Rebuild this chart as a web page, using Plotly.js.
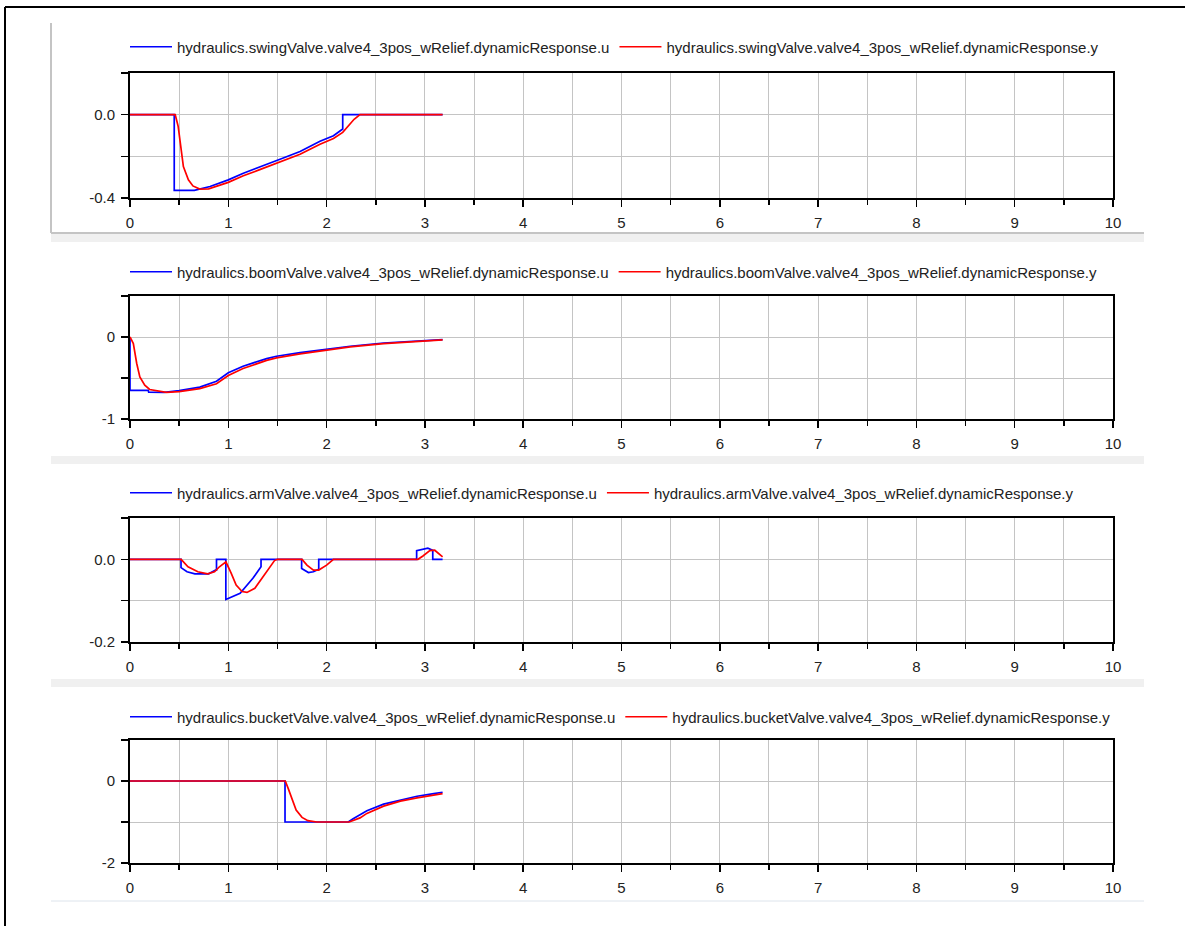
<!DOCTYPE html>
<html><head><meta charset="utf-8">
<script src="https://cdn.plot.ly/plotly-3.0.1.min.js"></script>
<style>html,body{margin:0;padding:0;background:#fff;} #chart{width:1185px;height:926px;}</style>
</head><body><div id="chart"></div>
<script>
// ---- data ----
const valveNames = ['swingValve', 'boomValve', 'armValve', 'bucketValve'];
const signalSuffix = ['u', 'y'];

const swingU_t = [0, 0.45, 0.45, 0.655, 0.814, 1.0, 1.153, 1.32, 1.526, 1.73, 1.933, 2.07, 2.164, 2.164, 3.18];
const swingU_v = [0, 0, -0.363, -0.363, -0.345, -0.313, -0.281, -0.252, -0.214, -0.177, -0.128, -0.101, -0.069, 0, 0];
const swingY_t = [0, 0.46, 0.49, 0.526, 0.543, 0.594, 0.64, 0.71, 0.8, 1.0, 1.153, 1.32, 1.526, 1.73, 1.933, 2.07, 2.164, 2.22, 2.28, 2.34, 3.18];
const swingY_v = [0, 0, -0.056, -0.2, -0.249, -0.313, -0.342, -0.357, -0.356, -0.325, -0.293, -0.264, -0.226, -0.19, -0.142, -0.114, -0.085, -0.055, -0.022, 0, 0];

const boomU_t = [0, 0, 0.186, 0.19, 0.35, 0.5, 0.71, 0.88, 1.0, 1.15, 1.39, 1.49, 1.73, 2.0, 2.24, 2.58, 3.0, 3.18];
const boomU_v = [0, -0.652, -0.652, -0.672, -0.675, -0.655, -0.611, -0.54, -0.437, -0.356, -0.263, -0.235, -0.19, -0.15, -0.113, -0.073, -0.04, -0.032];
const boomY_t = [0, 0.034, 0.068, 0.10, 0.15, 0.2, 0.37, 0.5, 0.71, 0.88, 1.0, 1.15, 1.39, 1.49, 1.73, 2.0, 2.24, 2.58, 3.0, 3.18];
const boomY_v = [0, -0.08, -0.32, -0.486, -0.587, -0.64, -0.675, -0.665, -0.63, -0.57, -0.47, -0.385, -0.285, -0.255, -0.205, -0.16, -0.12, -0.08, -0.045, -0.035];

const armU_t = [0, 0.519, 0.519, 0.58, 0.66, 0.80, 0.87, 0.88, 0.88, 0.975, 0.975, 1.12, 1.25, 1.333, 1.333, 1.746, 1.746, 1.815, 1.866, 1.92, 1.92, 2.916, 2.916, 3.03, 3.08, 3.08, 3.18];
const armU_v = [0, 0, -0.02, -0.03, -0.035, -0.035, -0.026, -0.026, 0, 0, -0.097, -0.082, -0.046, -0.018, 0, 0, -0.022, -0.032, -0.03, -0.024, 0, 0, 0.021, 0.027, 0.022, 0, 0];
const armY_t = [0, 0.52, 0.59, 0.69, 0.79, 0.86, 0.91, 0.976, 1.03, 1.08, 1.14, 1.19, 1.27, 1.35, 1.42, 1.47, 1.5, 1.75, 1.80, 1.866, 1.92, 2.0, 2.07, 2.93, 2.98, 3.05, 3.1, 3.18];
const armY_v = [0, 0, -0.018, -0.03, -0.035, -0.03, -0.018, -0.006, -0.034, -0.062, -0.078, -0.08, -0.07, -0.042, -0.018, -0.003, 0, 0, -0.014, -0.026, -0.026, -0.014, 0, 0, 0.008, 0.021, 0.022, 0.006];

const bucketU_t = [0, 1.577, 1.577, 2.22, 2.27, 2.34, 2.41, 2.58, 2.75, 2.92, 3.09, 3.18];
const bucketU_v = [0, 0, -1, -1, -0.92, -0.83, -0.726, -0.565, -0.468, -0.371, -0.306, -0.274];
const bucketY_t = [0, 1.58, 1.61, 1.64, 1.69, 1.75, 1.81, 1.9, 2.23, 2.34, 2.41, 2.58, 2.75, 2.92, 3.09, 3.18];
const bucketY_v = [0, 0, -0.185, -0.387, -0.71, -0.887, -0.968, -1, -1, -0.9, -0.79, -0.613, -0.49, -0.41, -0.347, -0.306];

const yRanges = [[-0.4, 0.2], [-1, 0.5], [-0.2, 0.1], [-2, 1]];
const yTickVals = [[-0.4, -0.2, 0, 0.2], [-1, -0.5, 0, 0.5], [-0.2, -0.1, 0, 0.1], [-2, -1, 0, 1]];
const yTickText = [['-0.4', '', '0.0', ''], ['-1', '', '0', ''], ['-0.2', '', '0.0', ''], ['-2', '', '0', '']];
const xTickVals = [0, 1, 2, 3, 4, 5, 6, 7, 8, 9, 10];

// ---- layout helpers ----
const W = 1185, H = 926;
const px = x => x / W;
const py = y => 1 - y / H;
const panelTops = [73, 296, 518, 740];
const panelBottoms = [198, 419, 642, 863];
const legendY = [47, 272, 493, 717];

const uData = [[swingU_t, swingU_v], [boomU_t, boomU_v], [armU_t, armU_v], [bucketU_t, bucketU_v]];
const yData = [[swingY_t, swingY_v], [boomY_t, boomY_v], [armY_t, armY_v], [bucketY_t, bucketY_v]];
const colors = ['#0000ff', '#ff0000'];

const FONT = '"Liberation Sans", Arial, sans-serif';
const traces = [];
const layout = {
  width: W, height: H,
  margin: {l: 0, r: 0, t: 0, b: 0},
  paper_bgcolor: '#ffffff', plot_bgcolor: '#ffffff',
  showlegend: true,
  font: {family: FONT, size: 15, color: '#222'},
  shapes: []
};

for (let i = 0; i < 4; i++) {
  const n = i === 0 ? '' : String(i + 1);
  const lg = 'legend' + n;
  [uData[i], yData[i]].forEach((d, k) => {
    traces.push({
      type: 'scatter', mode: 'lines',
      x: d[0], y: d[1],
      xaxis: 'x' + n, yaxis: 'y' + n,
      name: 'hydraulics.' + valveNames[i] + '.valve4_3pos_wRelief.dynamicResponse.' + signalSuffix[k],
      line: {color: colors[k], width: 1.7},
      legend: lg
    });
  });
  layout['xaxis' + n] = {
    domain: [px(130), px(1113)], range: [0, 10], anchor: 'y' + n,
    tickmode: 'array', tickvals: xTickVals,
    ticks: 'outside', ticklen: 7, tickwidth: 1.5, tickcolor: '#000',
    showline: true, linecolor: '#000', linewidth: 2, mirror: true,
    showgrid: true, gridcolor: '#c4c4c4', gridwidth: 1, zeroline: false,
    minor: {dtick: 0.5, tick0: 0, ticks: 'outside', ticklen: 5, tickwidth: 1.5, tickcolor: '#000',
            showgrid: true, gridcolor: '#c4c4c4', gridwidth: 1},
    tickfont: {family: FONT, size: 15, color: '#222'},
    ticklabelstandoff: 3,
    fixedrange: true
  };
  layout['yaxis' + n] = {
    domain: [py(panelBottoms[i]), py(panelTops[i])], range: yRanges[i], anchor: 'x' + n,
    tickmode: 'array', tickvals: yTickVals[i], ticktext: yTickText[i],
    ticks: 'outside', ticklen: 7, tickwidth: 1.5, tickcolor: '#000',
    showline: true, linecolor: '#000', linewidth: 2, mirror: true,
    showgrid: true, gridcolor: '#c4c4c4', gridwidth: 1, zeroline: false,
    tickfont: {family: FONT, size: 15, color: '#222'},
    ticklabelstandoff: 3,
    fixedrange: true
  };
  layout[lg] = {
    x: px(125), xanchor: 'left', y: py(legendY[i]), yanchor: 'middle',
    orientation: 'h', itemwidth: 42, bgcolor: 'rgba(0,0,0,0)', borderwidth: 0,
    font: {family: FONT, size: 15, color: '#222'}, traceorder: 'normal'
  };
}

// ---- decorative frame / separators ----
const S = layout.shapes;
S.push({type: 'line', xref: 'paper', yref: 'paper', x0: px(5), x1: 1, y0: py(7), y1: py(7), line: {color: '#000', width: 2}});
S.push({type: 'line', xref: 'paper', yref: 'paper', x0: px(5), x1: px(5), y0: 0, y1: py(7), line: {color: '#000', width: 2}});
S.push({type: 'line', xref: 'paper', yref: 'paper', x0: px(51), x1: px(51), y0: py(233), y1: py(23), line: {color: '#c4c4c4', width: 2}});
S.push({type: 'line', xref: 'paper', yref: 'paper', x0: px(51), x1: px(1144), y0: py(233), y1: py(233), line: {color: '#c4c4c4', width: 2}});
[[234, 242], [456, 464], [679, 687]].forEach(b => {
  S.push({type: 'rect', xref: 'paper', yref: 'paper', x0: px(51), x1: px(1144), y0: py(b[1]), y1: py(b[0]), fillcolor: '#f0f0f0', line: {width: 0}});
});
S.push({type: 'line', xref: 'paper', yref: 'paper', x0: px(51), x1: px(1144), y0: py(901), y1: py(901), line: {color: '#dde4ec', width: 1}});

Plotly.newPlot('chart', traces, layout, {staticPlot: true, displayModeBar: false});
</script>
</body></html>
